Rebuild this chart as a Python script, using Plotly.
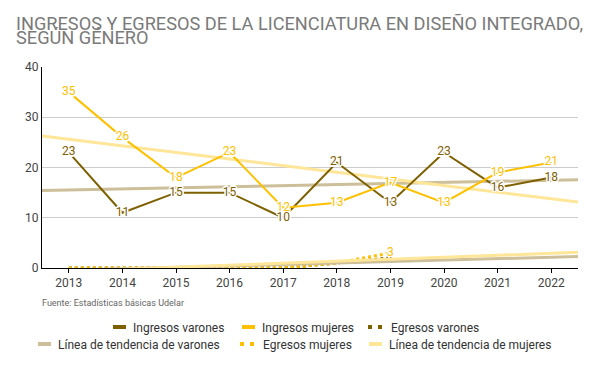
import numpy as np
import plotly.graph_objects as go

# ---------------- data ----------------
years = [2013, 2014, 2015, 2016, 2017, 2018, 2019, 2020, 2021, 2022]
ingresos_varones = [23, 11, 15, 15, 10, 21, 13, 23, 16, 18]
ingresos_mujeres = [35, 26, 18, 23, 12, 13, 17, 13, 19, 21]
egresos_years = [2013, 2014, 2015, 2016, 2017, 2018, 2019]
egresos_varones = [0, 0, 0, 0, 0, 1, 2]
egresos_mujeres = [0, 0, 0, 0, 0, 1, 3]
y_ticks = [0, 10, 20, 30, 40]

title_line1 = "INGRESOS Y EGRESOS DE LA LICENCIATURA EN DISEÑO INTEGRADO,"
title_line2 = "SEGÚN GÉNERO"
source_text = "Fuente: Estadísticas básicas Udelar"

# ---------------- styles ----------------
FONT = "Roboto, Arial, sans-serif"
C_VAR = "#7f6000"
C_MUJ = "#ffc000"
C_TR_VAR = "#ccbf99"
C_TR_MUJ = "#ffe699"
HALO = ("white 1.5px 0px 0px, white -1.5px 0px 0px, white 0px 1.5px 0px, white 0px -1.5px 0px, "
        "white 1px 1px 0px, white -1px 1px 0px, white 1px -1px 0px, white -1px -1px 0px")

x_lo = years[0] - 0.5
x_hi = years[-1] + 0.5


def trend(xs, ys):
    slope, intercept = np.polyfit(xs, ys, 1)
    xx = [x_lo, x_hi]
    return xx, [slope * v + intercept for v in xx]


def last_only(vals):
    return [""] * (len(vals) - 1) + [str(vals[-1])]


fig = go.Figure()

# egresos (dotted)
fig.add_trace(go.Scatter(x=egresos_years, y=egresos_varones, mode="lines+text",
                         line=dict(color=C_VAR, width=3, dash="dot"),
                         text=last_only(egresos_varones), textposition="middle center",
                         textfont=dict(color=C_VAR, size=12, family=FONT, shadow=HALO),
                         showlegend=False, cliponaxis=False))
fig.add_trace(go.Scatter(x=egresos_years, y=egresos_mujeres, mode="lines+text",
                         line=dict(color=C_MUJ, width=3, dash="dot"),
                         text=last_only(egresos_mujeres), textposition="middle center",
                         textfont=dict(color=C_MUJ, size=12, family=FONT, shadow=HALO),
                         showlegend=False, cliponaxis=False))

# trend lines
for xs, ys, col in [(years, ingresos_varones, C_TR_VAR),
                    (years, ingresos_mujeres, C_TR_MUJ),
                    (egresos_years, egresos_varones, C_TR_VAR),
                    (egresos_years, egresos_mujeres, C_TR_MUJ)]:
    tx, ty = trend(xs, ys)
    fig.add_trace(go.Scatter(x=tx, y=ty, mode="lines", line=dict(color=col, width=3),
                             showlegend=False, hoverinfo="skip"))

# ingresos
fig.add_trace(go.Scatter(x=years, y=ingresos_varones, mode="lines+text",
                         line=dict(color=C_VAR, width=2),
                         text=[str(v) for v in ingresos_varones], textposition="middle center",
                         textfont=dict(color=C_VAR, size=12, family=FONT, shadow=HALO),
                         showlegend=False, cliponaxis=False))
fig.add_trace(go.Scatter(x=years, y=ingresos_mujeres, mode="lines+text",
                         line=dict(color=C_MUJ, width=2),
                         text=[str(v) for v in ingresos_mujeres], textposition="middle center",
                         textfont=dict(color=C_MUJ, size=12, family=FONT, shadow=HALO),
                         showlegend=False, cliponaxis=False))

# ---------------- legend (one small legend per entry, laid out as a grid) ----------------
SOLID = "0px,15px,13px,100px"
DOTS = "0px,12px,4px,6px,4px,100px"
L, R, T, B = 42, 16, 67, 97
W, H = 594, 365
pw, ph = W - L - R, H - T - B

legend_items = [
    ("Ingresos varones", C_VAR, SOLID, 133, 327),
    ("Ingresos mujeres", C_MUJ, SOLID, 262, 327),
    ("Egresos varones", C_VAR, DOTS, 391, 327),
    ("Línea de tendencia de varones", C_TR_VAR, SOLID, 58, 344),
    ("Egresos mujeres", C_MUJ, DOTS, 263, 344),
    ("Línea de tendencia de mujeres", C_TR_MUJ, SOLID, 389, 344),
]
layout_legends = {}
for i, (name, col, dash, tx, ty) in enumerate(legend_items):
    key = "legend" if i == 0 else f"legend{i + 1}"
    fig.add_trace(go.Scatter(x=[None], y=[None], mode="lines", name=name,
                             line=dict(color=col, width=4, dash=dash),
                             legend=key, showlegend=True, hoverinfo="skip"))
    layout_legends[key] = dict(
        x=(tx - 40 - L) / pw, xanchor="left",
        y=(T + ph - ty) / ph, yanchor="middle",
        orientation="h", bgcolor="rgba(0,0,0,0)", borderwidth=0,
        font=dict(family=FONT, size=12, color="#333333"),
    )

fig.update_layout(
    width=W, height=H,
    margin=dict(l=L, r=R, t=T, b=B, autoexpand=False),
    paper_bgcolor="white", plot_bgcolor="white",
    font=dict(family=FONT, size=12, color="#444444"),
    xaxis=dict(range=[x_lo, x_hi], tickvals=years, ticktext=[str(y) for y in years],
               showgrid=False, zeroline=False, showline=True, linecolor="black", linewidth=1,
               ticks="outside", ticklen=4, tickcolor="black",
               tickfont=dict(family=FONT, size=12, color="#444444")),
    yaxis=dict(range=[0, 40], tickvals=y_ticks, showgrid=True, gridcolor="#cccccc",
               zeroline=False, showline=True, linecolor="black", linewidth=1, ticks="",
               tickfont=dict(family=FONT, size=12, color="#444444")),
    showlegend=True,
    **layout_legends,
    annotations=[
        dict(text=title_line1, x=(14 - L) / pw, y=(T + ph - 23) / ph, xref="paper", yref="paper",
             xanchor="left", yanchor="middle", showarrow=False,
             font=dict(family=FONT, size=18.2, color="#7a7a7a")),
        dict(text=title_line2, x=(14 - L) / pw, y=(T + ph - 37) / ph, xref="paper", yref="paper",
             xanchor="left", yanchor="middle", showarrow=False,
             font=dict(family=FONT, size=18.2, color="#7a7a7a")),
        dict(text=source_text, x=(40 - L) / pw, y=(T + ph - 303) / ph, xref="paper", yref="paper",
             xanchor="left", yanchor="middle", showarrow=False,
             font=dict(family=FONT, size=9, color="#666666")),
    ],
)

fig.write_html("out.html", config={"displayModeBar": False},
               post_script="document.body.style.margin='0';document.body.style.padding='0';")
